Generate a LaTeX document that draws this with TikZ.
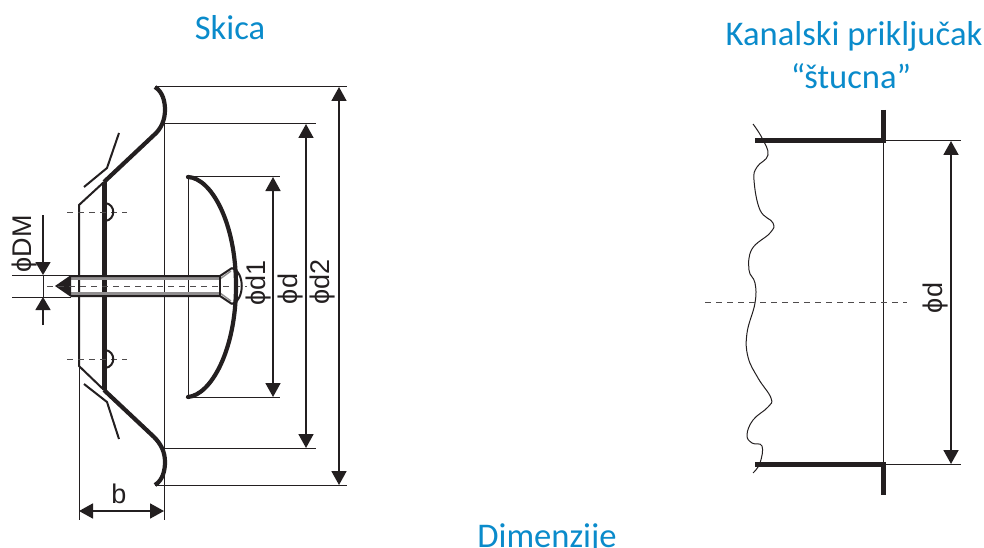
\documentclass[tikz,border=0pt]{standalone}
\usepackage{fontspec}
\setmainfont{Liberation Sans}
\newfontfamily\titlefont{Carlito}
\usetikzlibrary{arrows.meta}
\definecolor{inkdark}{HTML}{231F20}
\definecolor{titleblue}{HTML}{0A8BCB}
\tikzset{
  thinline/.style={draw=inkdark,line width=1pt},
  midline/.style={draw=inkdark,line width=2pt},
  thickline/.style={draw=inkdark,line width=4.2pt},
  heavyline/.style={draw=inkdark,line width=5pt},
  axisline/.style={draw=inkdark!80,line width=1pt,dash pattern=on 6pt off 5pt},
  dimline/.style={draw=inkdark,line width=1.8pt,{Triangle[length=14pt,width=15pt]}-{Triangle[length=14pt,width=15pt]}},
  halfdim/.style={draw=inkdark,line width=1.5pt,-{Triangle[length=13pt,width=15pt]}},
  title/.style={text=titleblue,font=\titlefont\fontsize{34.6}{38}\selectfont,inner sep=0pt},
  dimlabel/.style={text=inkdark,font=\fontsize{27}{30}\selectfont,inner sep=0pt},
}
\begin{document}
\begin{tikzpicture}[x=1pt,y=-1pt,line join=miter]
    \useasboundingbox (0,0) rectangle (984,548);
    % titles
    \node[title](Skica)at(230, 27.5){Skica};
    \node[title](Kanal)at(854, 36){Kanalski priključak};
    \node[title](Stucna)at(851, 76){“štucna”};
    \node[title,anchor=base](Dim)at(547, 547){Dimenzije};
    % rosette, extension lines
    \draw[thinline] (155,87) -- (347,87);
    \draw[thinline] (163,124) -- (316,124);
    \draw[thinline] (188,177) -- (280,177);
    \draw[thinline] (188,397) -- (280,397);
    \draw[thinline] (163,448) -- (316,448);
    \draw[thinline] (155,485) -- (347,485);
    \draw[thinline] (164,124) -- (164,520);
    \draw[thinline] (79,366) -- (79,520);
    \draw[thinline] (188,177) -- (188,397);
    \draw[thinline] (12,275) -- (71,275);
    \draw[thinline] (12,297) -- (71,297);
    % rosette, body
    \draw[thickline] (155,87) .. controls (163,92) and (165,102) .. (165,110)
        .. controls (165,120) and (161,129) .. (154,135) -- (104,182);
    \draw[thickline] (155,485) .. controls (163,480) and (165,470) .. (165,462)
        .. controls (165,452) and (161,444) .. (154,437) -- (104,390);
    \draw[midline,line join=bevel] (104,182) -- (79,205) -- (79,366) -- (104,390);
    \draw[heavyline] (104,182) -- (104,390);
    % rosette, flaps
    \draw[midline] (84,187) -- (107,168) -- (119,133);
    \draw[midline] (84,384) -- (107,402) -- (119,439);
    % rosette, holes
    \draw[axisline] (67,212) -- (127,212);
    \draw[axisline] (67,359) -- (127,359);
    \draw[midline] (105,203) .. controls (116,204) and (116,220) .. (105,221);
    \draw[midline] (105,350) .. controls (116,351) and (116,367) .. (105,368);
    % screw
    \fill[inkdark!50] (71,277) rectangle (220,280);
    \fill[inkdark!50] (71,292) rectangle (220,295);
    \draw[midline] (71,276) -- (220,276) -- (232,268);
    \draw[midline] (71,296) -- (220,296) -- (232,304);
    \draw[thinline,draw=inkdark!50,line width=1.4pt] (220,279) -- (231,271);
    \draw[thinline,draw=inkdark!50,line width=1.4pt] (220,293) -- (231,301);
    \draw[midline,line width=1.4pt] (220,275) -- (220,297);
    \fill[inkdark] (55,286) -- (71,275) -- (71,297) -- cycle;
    \draw[axisline] (47,286) -- (247,286);
    % cap
    \draw[thickline,line cap=round] (188,177) .. controls (211,178) and (236,222) .. (236,286)
        .. controls (236,350) and (211,395) .. (188,397);
    \draw[midline] (232,268) .. controls (245,272) and (245,300) .. (232,304);
    % dimensions
    \coordinate (d2top) at (339,87);
    \coordinate (d2bot) at (339,485);
    \coordinate (dtop) at (306,124);
    \coordinate (dbot) at (306,448);
    \coordinate (d1top) at (273,177);
    \coordinate (d1bot) at (273,397);
    \coordinate (btl) at (79,511);
    \coordinate (btr) at (164,511);
    \draw[dimline] (d2top) -- (d2bot);
    \draw[dimline] (dtop) -- (dbot);
    \draw[dimline] (d1top) -- (d1bot);
    \draw[dimline] (btl) -- (btr);
    \coordinate (dmup) at (43,215);
    \coordinate (dmupend) at (43,275);
    \coordinate (dmlow) at (43,325);
    \coordinate (dmlowend) at (43,297);
    \draw[halfdim] (dmup) -- (dmupend);
    \draw[halfdim] (dmlow) -- (dmlowend);
    \draw[thinline] (dmupend) -- (dmlowend);
    \node[dimlabel,rotate=90](DM)at(25, 244){ϕDM};
    \node[dimlabel,rotate=90](d1)at(259, 283){ϕd1};
    \node[dimlabel,rotate=90](d)at(291, 289){ϕd};
    \node[dimlabel,rotate=90](d2)at(323, 282){ϕd2};
    \node[dimlabel](b)at(119, 494){b};
    % duct connection
    \draw[thinline] plot[smooth,tension=0.7] coordinates {(753,124) (762,138) (768,155) (757,167) (754,180) (760,210) (773,223) (770,233) (752,249) (749,270) (755,283) (755,303) (747,333) (748,357) (758,378) (771,398) (768,407) (753,420) (747,435) (752,443) (762,446) (760,463) (753,473)};
    \draw[thinline] (883,141) -- (883,464);
    \draw[thinline] (883,141) -- (961,141);
    \draw[thinline] (883,464) -- (961,464);
    \draw[heavyline] (755,141) -- (886,141);
    \draw[heavyline] (755,464) -- (886,464);
    \draw[heavyline] (883.5,110) -- (883.5,143);
    \draw[heavyline] (883.5,462) -- (883.5,495);
    \draw[axisline] (705,302) -- (907,302);
    \coordinate (ductop) at (951,141);
    \coordinate (ducbot) at (951,464);
    \draw[dimline] (ductop) -- (ducbot);
    \node[dimlabel,rotate=90](dduct)at(936, 298){ϕd};
\end{tikzpicture}
\end{document}
